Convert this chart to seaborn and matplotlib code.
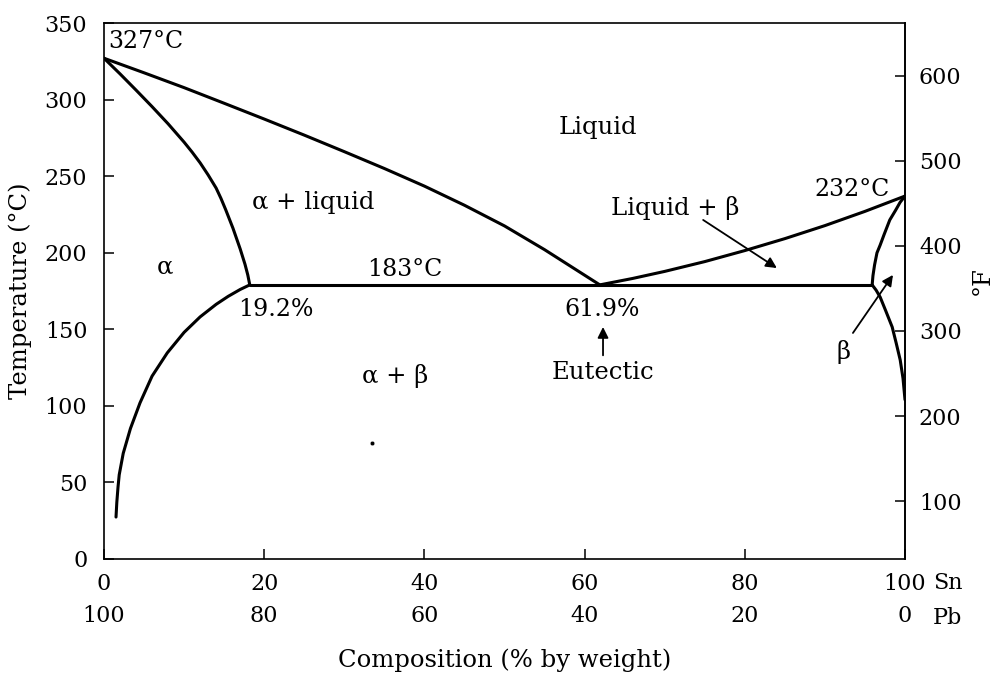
import matplotlib
matplotlib.use('Agg')
import matplotlib.pyplot as plt
import numpy as np
import pandas as pd
import seaborn as sns

# phase boundaries (wt% Sn, deg C)
liquidus_a_x = [0, 5, 10, 15, 20, 25, 30, 35, 40, 45, 50, 55, 61.9]
liquidus_a_t = [327, 317.5, 307.8, 297.6, 287.3, 276.8, 266, 255, 243.5,
                231, 217.5, 202, 179]

solidus_a_x = [0, 2, 4, 6, 8, 10, 11, 12, 13, 14, 14.6, 15.2, 16.1, 17.0,
               17.6, 17.95, 18.2]
solidus_a_t = [327, 316.8, 306.2, 295.4, 284.2, 272.2, 265.7, 258.7, 250.8,
               242.2, 235.5, 228, 216, 202.5, 192.5, 185.5, 179]

solvus_a_x = [18.2, 17, 15.5, 14, 12, 10, 7.9, 6, 4.5, 3.3, 2.4, 1.9, 1.75,
              1.6, 1.5]
solvus_a_t = [179, 176, 171.5, 166.3, 158.1, 148, 134.6, 119.4, 102, 85.2,
              69, 55, 47, 37, 27.4]

liquidus_b_x = [61.9, 66, 70, 75, 80, 85, 90, 95, 100]
liquidus_b_t = [179, 183.2, 187.8, 194.2, 201.4, 209.2, 217.7, 227, 237]

solidus_b_x = [100, 99.4, 98.8, 98.1, 97.4, 96.9, 96.5, 96.2, 96.0, 95.9]
solidus_b_t = [237, 233, 227.5, 221.4, 212, 205, 199.9, 192, 185, 179]

solvus_b_x = [95.9, 96.4, 96.9, 97.6, 98.4, 98.9, 99.4, 99.75, 100]
solvus_b_t = [179, 175.5, 171, 162, 151.5, 141, 130, 118, 104]

eutectic_x = [18.2, 95.9]
eutectic_t = [179, 179]

speck_x = [33.5]
speck_t = [76]

x_ticks_sn = [0, 20, 40, 60, 80, 100]
y_ticks_c = [0, 50, 100, 150, 200, 250, 300, 350]
y_ticks_f = [100, 200, 300, 400, 500, 600]

sns.set_theme(style='ticks')
plt.rcParams['font.family'] = ['DejaVu Serif']
plt.rcParams['text.color'] = 'black'
plt.rcParams['axes.labelcolor'] = 'black'

fig = plt.figure(figsize=(10, 6.73), dpi=100)
ax = fig.add_axes([0.104, 0.1694, 0.801, 0.7964])

curves = [(liquidus_a_x, liquidus_a_t), (solidus_a_x, solidus_a_t),
          (solvus_a_x, solvus_a_t), (liquidus_b_x, liquidus_b_t),
          (solidus_b_x, solidus_b_t), (solvus_b_x, solvus_b_t),
          (eutectic_x, eutectic_t)]
for cx, ct in curves:
    df = pd.DataFrame({'x': cx, 't': ct})
    sns.lineplot(data=df, x='x', y='t', sort=False, estimator=None,
                 color='black', lw=2.2, ax=ax)

sns.scatterplot(x=speck_x, y=speck_t, color='black', s=10, ax=ax)

ax.set_xlim(0, 100)
ax.set_ylim(0, 350)
ax.set_xticks(x_ticks_sn)
ax.set_yticks(y_ticks_c)
ax.set_xlabel('')
ax.set_ylabel('Temperature (°C)', fontsize=17.5, labelpad=9)
ax.tick_params(axis='both', direction='in', length=7, width=1.1,
               labelsize=16, colors='black')
ax.tick_params(axis='x', pad=10)
ax.tick_params(axis='y', pad=12)
for s in ax.spines.values():
    s.set_visible(True)
    s.set_linewidth(1.2)
    s.set_color('black')

# Pb scale under the Sn scale
pb = ax.secondary_xaxis(-0.085, functions=(lambda v: 100 - v, lambda v: 100 - v))
pb.set_xticks(x_ticks_sn)
pb.spines['bottom'].set_visible(False)
pb.tick_params(length=0, labelsize=16, pad=0, colors='black')
pb.set_xlabel('Composition (% by weight)', fontsize=17.5, labelpad=16)

# Fahrenheit scale on the right
f_ax = ax.secondary_yaxis('right', functions=(lambda c: c * 9 / 5 + 32,
                                              lambda f: (f - 32) * 5 / 9))
f_ax.set_yticks(y_ticks_f)
f_ax.tick_params(direction='in', length=7, width=1.1, labelsize=16, pad=10,
                 colors='black')
f_ax.spines['right'].set_linewidth(1.2)
f_ax.spines['right'].set_color('black')
ax.text(1.096, 0.52, '°F', transform=ax.transAxes, fontsize=17.5,
        rotation=90, ha='center', va='center')

ax.text(1.035, -0.045, 'Sn', transform=ax.transAxes, fontsize=16,
        ha='left', va='center')
ax.text(1.035, -0.11, 'Pb', transform=ax.transAxes, fontsize=16,
        ha='left', va='center')

fs = 17.5
ax.text(0.5, 337.7, '327°C', fontsize=17, ha='left', va='center')
ax.text(98.1, 241, '232°C', fontsize=17, ha='right', va='center')
ax.text(61.7, 281.5, 'Liquid', fontsize=fs, ha='center', va='center')
ax.text(26.1, 232.5, 'α + liquid', fontsize=fs, ha='center', va='center')
ax.text(7.6, 190.7, 'α', fontsize=fs, ha='center', va='center')
ax.text(37.6, 188.8, '183°C', fontsize=17, ha='center', va='center')
ax.text(21.5, 162.6, '19.2%', fontsize=17, ha='center', va='center')
ax.text(62.2, 162.6, '61.9%', fontsize=17, ha='center', va='center')
ax.text(62.3, 121.5, 'Eutectic', fontsize=fs, ha='center', va='center')
ax.text(36.3, 119.5, 'α + β', fontsize=fs, ha='center', va='center')
ax.text(71.3, 229.3, 'Liquid + β', fontsize=fs, ha='center', va='center')
ax.text(92.3, 135.2, 'β', fontsize=fs, ha='center', va='center')

arrow = dict(arrowstyle='-|>', color='black', lw=1.3, mutation_scale=16,
             shrinkA=0, shrinkB=0)
ax.annotate('', xy=(62.3, 151.5), xytext=(62.3, 133), arrowprops=arrow)
ax.annotate('', xy=(84.0, 190), xytext=(74.8, 221.4), arrowprops=arrow)
ax.annotate('', xy=(98.5, 185.5), xytext=(93.5, 147.6), arrowprops=arrow)

fig.savefig('out.png', dpi=100)
